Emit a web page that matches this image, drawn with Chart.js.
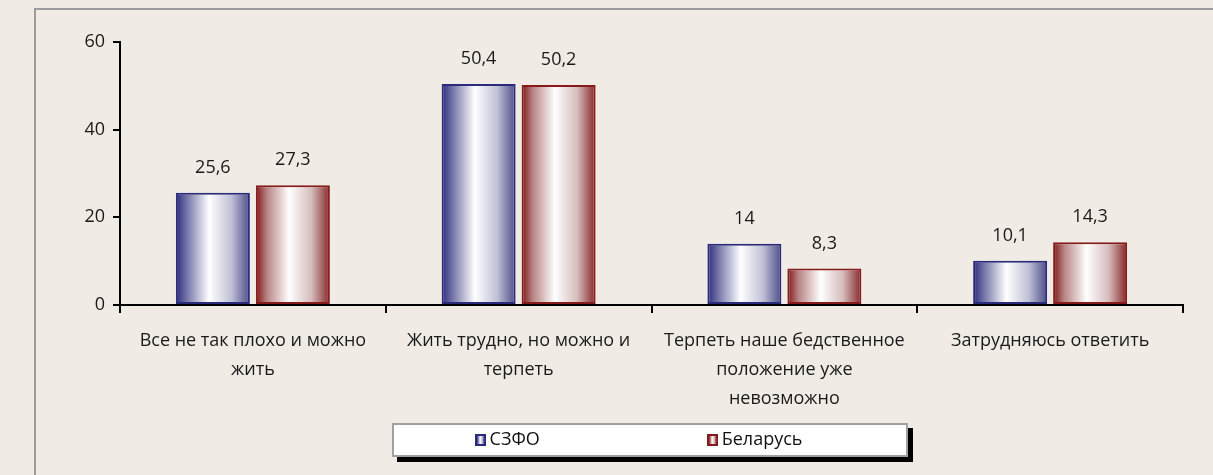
<!DOCTYPE html>
<html>
<head>
<meta charset="utf-8">
<script src="https://cdn.jsdelivr.net/npm/chart.js@4/dist/chart.umd.min.js"></script>
<style>
  html, body { margin: 0; padding: 0; background: #f0ece5; }
  #wrap { width: 1213px; height: 475px; position: relative; }
  canvas { display: block; }
</style>
</head>
<body>
<div id="wrap"><canvas id="c" width="1213" height="475"></canvas></div>
<script>
// ---- data ----
const categories = [
  ["Все не так плохо и можно", "жить"],
  ["Жить трудно, но можно и", "терпеть"],
  ["Терпеть наше бедственное", "положение уже", "невозможно"],
  ["Затрудняюсь ответить"]
];
const seriesNames = ["СЗФО", "Беларусь"];
const szfoValues = [25.6, 50.4, 14, 10.1];
const belarusValues = [27.3, 50.2, 8.3, 14.3];
const yTicks = [0, 20, 40, 60];

// ---- styling ----
const FONT = "'Open Sans', 'DejaVu Sans', sans-serif";
const FS = 18;
const palettes = [
  { edge: '#2b2b7b', stops: [[0, '#2b2b7b'], [0.15, '#7676aa'], [0.45, '#ffffff'], [0.75, '#c0c0d6'], [1, '#4c4c8a']] },
  { edge: '#871a1a', stops: [[0, '#7d1616'], [0.15, '#b88484'], [0.45, '#ffffff'], [0.75, '#d6bcbc'], [1, '#862626']] }
];

function makeMarker(p) {
  const cv = document.createElement('canvas');
  cv.width = 11; cv.height = 12;
  const g = cv.getContext('2d');
  const gr = g.createLinearGradient(2, 0, 9, 0);
  p.stops.forEach(s => gr.addColorStop(s[0], s[1]));
  g.fillStyle = p.edge; g.fillRect(0, 0, 11, 12);
  g.fillStyle = gr; g.fillRect(2, 2, 7, 8);
  return cv;
}
const markers = palettes.map(makeMarker);

const framePlugin = {
  id: 'frame',
  beforeDraw(chart) {
    const ctx = chart.ctx;
    ctx.save();
    ctx.fillStyle = '#f0ece5';
    ctx.fillRect(0, 0, chart.width, chart.height);
    ctx.fillStyle = '#9c9c9c';
    ctx.fillRect(34, 8, chart.width - 34, 2);
    ctx.fillRect(34, 8, 2, chart.height - 8);
    // legend box
    const ca = chart.chartArea;
    const cx = (ca.left + ca.right) / 2;
    const bw = 516, bh = 34, by = 423;
    const bx = Math.round(cx - bw / 2) - 2;
    ctx.fillStyle = '#000000';
    ctx.fillRect(bx + 5, by + 5, bw, bh);
    ctx.fillStyle = '#ffffff';
    ctx.fillRect(bx, by, bw, bh);
    ctx.strokeStyle = '#a0a0a0';
    ctx.lineWidth = 2;
    ctx.strokeRect(bx + 1, by + 1, bw - 2, bh - 2);
    ctx.restore();
  },
  afterLayout(chart) {
    const lg = chart.legend;
    const ca = chart.chartArea;
    if (lg) {
      lg.left = ca.left - 10; lg.right = ca.right - 10; lg.width = lg.right - lg.left;
      const pad = lg.options.labels.padding;
      lg.top = 440 - pad - FS / 2;
      lg.bottom = 472;
      lg.height = lg.bottom - lg.top;
    }
  },
  beforeDatasetsDraw(chart) {
    const ctx = chart.ctx;
    chart.data.datasets.forEach((ds, di) => {
      const meta = chart.getDatasetMeta(di);
      const p = palettes[di];
      meta.data.forEach(bar => {
        const l = bar.x - bar.width / 2, r = bar.x + bar.width / 2;
        const g = ctx.createLinearGradient(l, 0, r, 0);
        p.stops.forEach(s => g.addColorStop(s[0], s[1]));
        bar.options.backgroundColor = g;
      });
    });
  },
  afterDatasetsDraw(chart) {
    const ctx = chart.ctx;
    ctx.save();
    ctx.font = FS + 'px ' + FONT;
    ctx.fillStyle = '#1a1a1a';
    ctx.textAlign = 'center';
    ctx.textBaseline = 'middle';
    chart.data.datasets.forEach((ds, di) => {
      const meta = chart.getDatasetMeta(di);
      meta.data.forEach((bar, i) => {
        const txt = String(ds.data[i]).replace('.', ',');
        ctx.fillText(txt, bar.x, bar.y - 25);
      });
    });
    ctx.restore();
  }
};

new Chart(document.getElementById('c'), {
  type: 'bar',
  data: {
    labels: categories,
    datasets: [
      { label: seriesNames[0], data: szfoValues, borderColor: palettes[0].edge, borderWidth: 2,
        backgroundColor: () => '#ffffff', borderSkipped: false },
      { label: seriesNames[1], data: belarusValues, borderColor: palettes[1].edge, borderWidth: 2,
        backgroundColor: () => '#ffffff', borderSkipped: false }
    ]
  },
  options: {
    responsive: false,
    animation: false,
    devicePixelRatio: 1,
    categoryPercentage: 0.602,
    barPercentage: 0.925,
    layout: { padding: { left: 0, right: 30, top: 42, bottom: 18 } },
    plugins: {
      tooltip: { enabled: false },
      legend: {
        position: 'bottom',
        maxHeight: 34,
        labels: {
          usePointStyle: true,
          pointStyleWidth: 0.01,
          padding: 173,
          color: '#111111',
          font: { family: FONT, size: FS },
          generateLabels(chart) {
            return chart.data.datasets.map((ds, i) => ({
              text: ds.label, pointStyle: markers[i], fillStyle: '#fff', strokeStyle: palettes[i].edge,
              lineWidth: 0, hidden: false, datasetIndex: i, fontColor: '#111111'
            }));
          }
        }
      }
    },
    scales: {
      x: {
        afterFit(s) { s.height = 118; },
        grid: { display: true, drawOnChartArea: false, offset: true, tickLength: 8, color: '#000000', lineWidth: 2 },
        border: { display: true, color: '#000000', width: 2 },
        ticks: { color: '#1a1a1a', font: { family: FONT, size: FS, lineHeight: 29 / FS }, padding: 13, maxRotation: 0, autoSkip: false }
      },
      y: {
        min: 0, max: 60,
        afterFit(s) { s.width = 120; },
        afterBuildTicks(s) { s.ticks = yTicks.map(v => ({ value: v })); },
        grid: { display: true, drawOnChartArea: false, tickLength: 7, color: '#000000', lineWidth: 2 },
        border: { display: true, color: '#000000', width: 2 },
        ticks: { color: '#1a1a1a', font: { family: FONT, size: FS }, padding: 8 }
      }
    }
  },
  plugins: [framePlugin]
});
</script>
</body>
</html>
